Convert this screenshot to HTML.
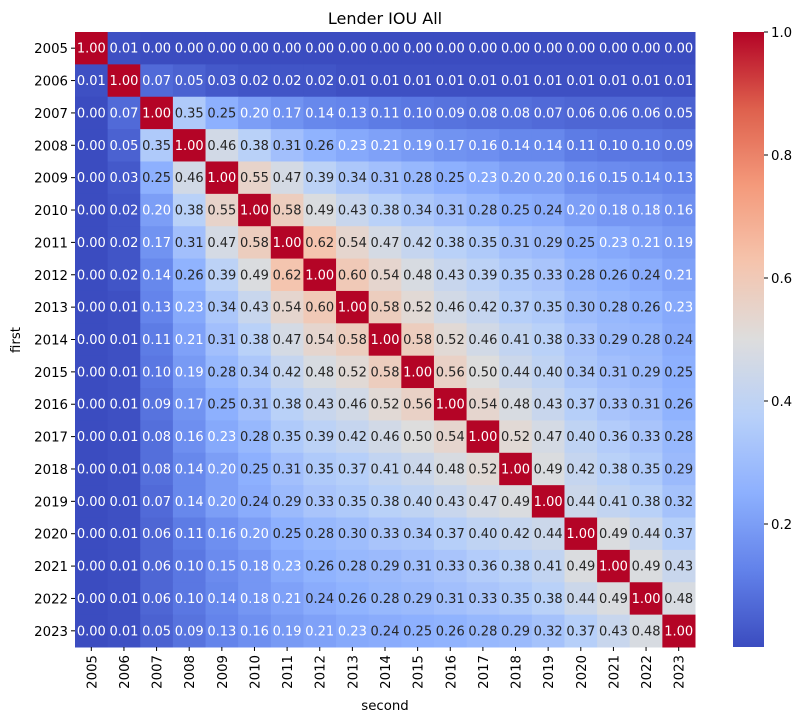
<!DOCTYPE html>
<html><head><meta charset="utf-8"><style>
html,body{margin:0;padding:0;background:#fff;}
svg{display:block;font-family:"DejaVu Sans","Liberation Sans",sans-serif;}
</style></head><body>
<svg id="chart" width="805" height="722">
<text x="385" y="24" text-anchor="middle" font-size="16">Lender IOU All</text>
<g id="cells"></g>
<g id="xt"></g>
<g id="yt"></g>
<text x="385" y="710" text-anchor="middle" font-size="13.3">second</text>
<text transform="translate(20,340) rotate(-90)" text-anchor="middle" font-size="13.3">first</text>
<defs><linearGradient id="cg" x1="0" y1="1" x2="0" y2="0"></linearGradient></defs>
<rect x="733" y="32" width="31" height="615" fill="url(#cg)"/>
<g id="cb"></g>
</svg>
<script>
const years = [2005,2006,2007,2008,2009,2010,2011,2012,2013,2014,2015,2016,2017,2018,2019,2020,2021,2022,2023];
const values = [
[1.00,0.01,0.00,0.00,0.00,0.00,0.00,0.00,0.00,0.00,0.00,0.00,0.00,0.00,0.00,0.00,0.00,0.00,0.00],
[0.01,1.00,0.07,0.05,0.03,0.02,0.02,0.02,0.01,0.01,0.01,0.01,0.01,0.01,0.01,0.01,0.01,0.01,0.01],
[0.00,0.07,1.00,0.35,0.25,0.20,0.17,0.14,0.13,0.11,0.10,0.09,0.08,0.08,0.07,0.06,0.06,0.06,0.05],
[0.00,0.05,0.35,1.00,0.46,0.38,0.31,0.26,0.23,0.21,0.19,0.17,0.16,0.14,0.14,0.11,0.10,0.10,0.09],
[0.00,0.03,0.25,0.46,1.00,0.55,0.47,0.39,0.34,0.31,0.28,0.25,0.23,0.20,0.20,0.16,0.15,0.14,0.13],
[0.00,0.02,0.20,0.38,0.55,1.00,0.58,0.49,0.43,0.38,0.34,0.31,0.28,0.25,0.24,0.20,0.18,0.18,0.16],
[0.00,0.02,0.17,0.31,0.47,0.58,1.00,0.62,0.54,0.47,0.42,0.38,0.35,0.31,0.29,0.25,0.23,0.21,0.19],
[0.00,0.02,0.14,0.26,0.39,0.49,0.62,1.00,0.60,0.54,0.48,0.43,0.39,0.35,0.33,0.28,0.26,0.24,0.21],
[0.00,0.01,0.13,0.23,0.34,0.43,0.54,0.60,1.00,0.58,0.52,0.46,0.42,0.37,0.35,0.30,0.28,0.26,0.23],
[0.00,0.01,0.11,0.21,0.31,0.38,0.47,0.54,0.58,1.00,0.58,0.52,0.46,0.41,0.38,0.33,0.29,0.28,0.24],
[0.00,0.01,0.10,0.19,0.28,0.34,0.42,0.48,0.52,0.58,1.00,0.56,0.50,0.44,0.40,0.34,0.31,0.29,0.25],
[0.00,0.01,0.09,0.17,0.25,0.31,0.38,0.43,0.46,0.52,0.56,1.00,0.54,0.48,0.43,0.37,0.33,0.31,0.26],
[0.00,0.01,0.08,0.16,0.23,0.28,0.35,0.39,0.42,0.46,0.50,0.54,1.00,0.52,0.47,0.40,0.36,0.33,0.28],
[0.00,0.01,0.08,0.14,0.20,0.25,0.31,0.35,0.37,0.41,0.44,0.48,0.52,1.00,0.49,0.42,0.38,0.35,0.29],
[0.00,0.01,0.07,0.14,0.20,0.24,0.29,0.33,0.35,0.38,0.40,0.43,0.47,0.49,1.00,0.44,0.41,0.38,0.32],
[0.00,0.01,0.06,0.11,0.16,0.20,0.25,0.28,0.30,0.33,0.34,0.37,0.40,0.42,0.44,1.00,0.49,0.44,0.37],
[0.00,0.01,0.06,0.10,0.15,0.18,0.23,0.26,0.28,0.29,0.31,0.33,0.36,0.38,0.41,0.49,1.00,0.49,0.43],
[0.00,0.01,0.06,0.10,0.14,0.18,0.21,0.24,0.26,0.28,0.29,0.31,0.33,0.35,0.38,0.44,0.49,1.00,0.48],
[0.00,0.01,0.05,0.09,0.13,0.16,0.19,0.21,0.23,0.24,0.25,0.26,0.28,0.29,0.32,0.37,0.43,0.48,1.00]];
const cbTicks = [0.2,0.4,0.6,0.8,1.0];
const vmin = 0.0, vmax = 1.0;

const NS="http://www.w3.org/2000/svg";
const L=75,T=32,W=620,H=615;
const cw=W/years.length, ch=H/years.length;
const xPos=i=>L+i*cw, yPos=i=>T+i*ch;
const stops=[[0,[59,76,192]],[0.125,[98,130,234]],[0.25,[141,176,254]],[0.375,[184,208,249]],[0.5,[221,221,221]],[0.625,[245,196,173]],[0.75,[244,154,123]],[0.875,[222,96,77]],[1,[180,4,38]]];
function cmap(v){let t=Math.max(0,Math.min(1,(v-vmin)/(vmax-vmin)));
 for(let k=1;k<stops.length;k++){if(t<=stops[k][0]){const a=stops[k-1],b=stops[k];const f=(t-a[0])/(b[0]-a[0]);return a[1].map((c,j)=>Math.round(c+(b[1][j]-c)*f));}}return stops[stops.length-1][1];}
function lum(c){const r=c.map(x=>{x/=255;return x<=0.03928?x/12.92:Math.pow((x+0.055)/1.055,2.4);});return 0.2126*r[0]+0.7152*r[1]+0.0722*r[2];}
function mk(tag,attrs,parent){const e=document.createElementNS(NS,tag);for(const k in attrs)e.setAttribute(k,attrs[k]);parent.appendChild(e);return e;}
const cells=document.getElementById('cells');
values.forEach((row,i)=>row.forEach((v,j)=>{
 const c=cmap(v);
 const r=mk('rect',{x:xPos(j),y:yPos(i),width:cw+0.5,height:ch+0.5,fill:`rgb(${c})`},cells);
 
 
 const t=mk('text',{x:xPos(j)+cw/2,y:yPos(i)+ch/2+4.5,'text-anchor':'middle','font-size':'13',fill:lum(c)>0.408?'#262626':'#fff'},cells);
 t.textContent=v.toFixed(2);
 
 
}));
const xt=document.getElementById('xt'), yt=document.getElementById('yt');
years.forEach((y,i)=>{
 const cx=xPos(i)+cw/2;
 mk('line',{x1:cx,x2:cx,y1:T+H,y2:T+H+4,stroke:'#000'},xt);
 const t=mk('text',{transform:`translate(${cx+5},${T+H+8}) rotate(-90)`,'text-anchor':'end','font-size':'13.3'},xt);
 t.textContent=y;
 
 
 const cy=yPos(i)+ch/2;
 mk('line',{x1:L-4,x2:L,y1:cy,y2:cy,stroke:'#000'},yt);
 const u=mk('text',{x:L-7,y:cy+5,'text-anchor':'end','font-size':'13.3'},yt);
 u.textContent=y;
 
 
});
const g=document.getElementById('cg');
for(let k=0;k<=40;k++){const v=vmin+(vmax-vmin)*k/40;mk('stop',{offset:(k/40),'stop-color':`rgb(${cmap(v)})`},g);}
const cb=document.getElementById('cb');
const cbY=v=>T+H-(v-vmin)/(vmax-vmin)*H;
cbTicks.forEach(v=>{const y=cbY(v);
 mk('line',{x1:764,x2:768,y1:y,y2:y,stroke:'#000'},cb);
 const t=mk('text',{x:771,y:y+5,'font-size':'13.3'},cb);
 t.textContent=v.toFixed(1);
 
 
});
</script>
</body></html>
